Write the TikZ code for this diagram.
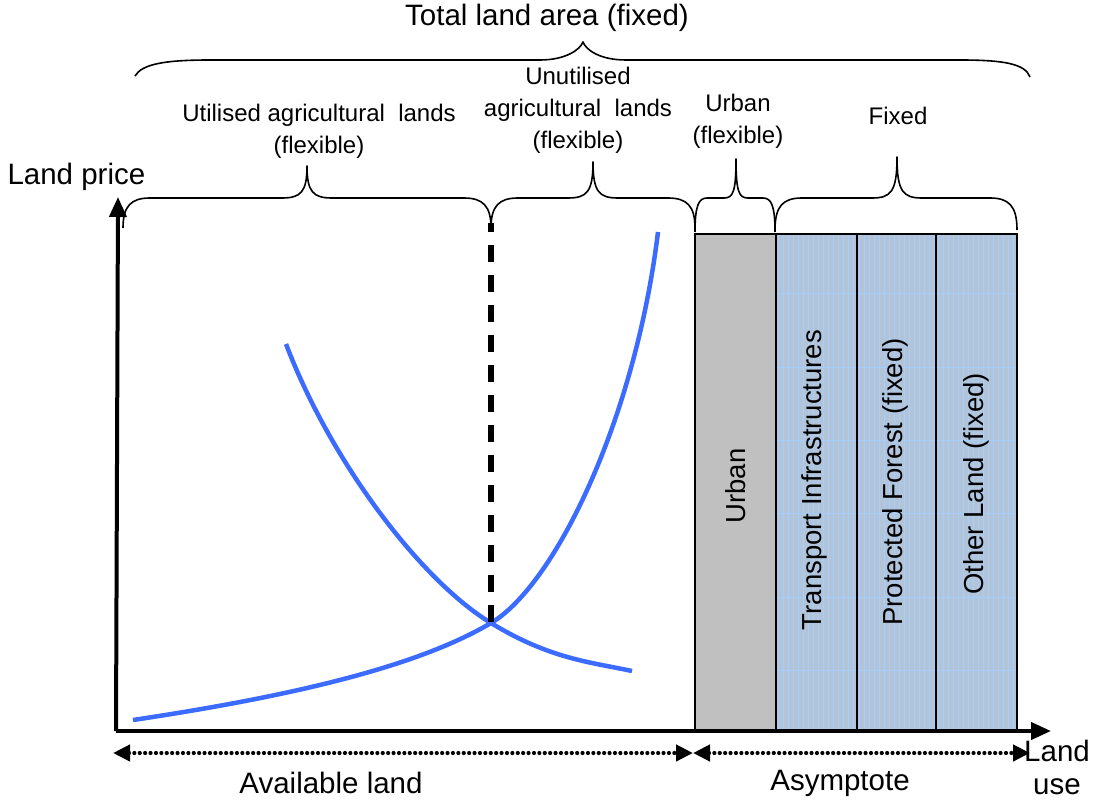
\documentclass[tikz,border=0pt]{standalone}
\usepackage{fontspec}
\setmainfont{Liberation Sans}
\usetikzlibrary{arrows.meta}
\definecolor{curveblue}{RGB}{59,108,255}
\definecolor{urbangrey}{RGB}{192,192,192}
\definecolor{fixedfill}{RGB}{180,196,216}
\definecolor{stripe}{RGB}{166,206,250}
\newcommand\mybrace[8]{%
  \draw[brace] (#1,#4) .. controls (#1,#5+8) and (#1+#7*0.3,#5) .. (#1+#7,#5)
    -- (#2-#8,#5) .. controls (#2-#8*0.25,#5) and (#2,#5-6) .. (#2,#6)
    .. controls (#2,#5-6) and (#2+#8*0.25,#5) .. (#2+#8,#5)
    -- (#3-#7,#5) .. controls (#3-#7*0.3,#5) and (#3,#5+8) .. (#3,#4);}
\begin{document}
\begin{tikzpicture}[x=1pt,y=-1pt,
  axis/.style={line width=4pt,-{Triangle[length=20pt,width=17pt]}},
  brace/.style={line width=1.6pt,line join=round},
  dotline/.style={line width=4.2pt,line cap=round,dash pattern=on 0pt off 5.4pt},
  tipboth/.style={{Triangle[length=17pt,width=16pt]}-{Triangle[length=17pt,width=16pt]}},
  curve/.style={curveblue,line width=4.5pt},
  box/.style={draw=black,line width=1.8pt,anchor=north west,inner sep=0pt,minimum width=81pt,minimum height=498pt},
  fixedbox/.style={box,fill=fixedfill,path picture={
     \foreach \i in {2.5,7.5,...,81}
       \draw[stripe,line width=0.6pt] ([xshift=\i pt]path picture bounding box.north west) -- ([xshift=\i pt]path picture bounding box.south west);
     \foreach \j in {60,134,207,280,364,437}
       \draw[stripe,line width=1pt] ([yshift=-\j pt]path picture bounding box.north west) -- ([yshift=-\j pt]path picture bounding box.north east);}},
  big/.style={font=\fontsize{29.5}{33}\selectfont},
  lab/.style={font=\fontsize{24}{32}\selectfont,align=center},
  boxtext/.style={font=\fontsize{27.5}{30}\selectfont,rotate=90}
]
\useasboundingbox (0,0) rectangle (1097,802);

% boxes
\node[box,fill=urbangrey] (urban) at (694,233) {};
\node[fixedbox] (transport) at (775,233) {};
\node[fixedbox] (forest) at (856,233) {};
\node[fixedbox,minimum width=81pt] (other) at (935,233) {};
\node[boxtext] (urbant) at (736,486) {Urban};
\node[boxtext] (transt) at (814,480) {Transport Infrastructures};
\node[boxtext] (forestt) at (895,482) {Protected Forest (fixed)};
\node[boxtext] (othert) at (976,484) {Other Land (fixed)};

% axes
\coordinate (origin) at (118,731);
\coordinate (ytop) at (118,197);
\coordinate (xend) at (1051,731);
\draw[axis] (116,731) -- (ytop);
\draw[axis] (116,731) -- (xend);

% curves
\coordinate (cross) at (491,623);
\draw[curve] (133,720) .. controls (300,695) and (420,665) .. (cross)
  .. controls (555,585) and (635,420) .. (658,232);
\draw[curve] (286,344) .. controls (330,460) and (420,580) .. (cross)
  .. controls (550,659) and (590,662) .. (632,671);

% dashed line
\coordinate (dtop) at (491,223);
\draw[line width=6pt,dash pattern=on 17pt off 13pt] (491,622) -- (dtop);

% braces
\mybrace{123}{307}{491}{228}{198}{166}{27}{25}
\mybrace{491}{593}{695}{228}{198}{162}{27}{25}
\mybrace{695}{736}{775}{232}{198}{159}{12}{12}
\mybrace{775}{897}{1017}{230}{198}{157}{27}{25}
\draw[brace] (135,76) .. controls (142,64) and (165,60) .. (210,60) -- (540,60)
  .. controls (565,60) and (580,50) .. (583,42)
  .. controls (586,50) and (600,60) .. (626,60) -- (960,60)
  .. controls (1005,60) and (1025,64) .. (1030,77);

% labels
\node[big] (total) at (547,18) {Total land area (fixed)};
\node[lab] (util) at (319,131) {Utilised agricultural\ \ lands\\(flexible)};
\node[lab] (unutil) at (578,110) {Unutilised\\agricultural\ \ lands\\(flexible)};
\node[lab] (urbanl) at (738,121) {Urban\\(flexible)};
\node[lab] (fixedl) at (898,116) {Fixed};
\node[big,anchor=west] (price) at (4,177) {Land price};

% bottom arrows
\coordinate (al) at (113,753);
\coordinate (am) at (693,753);
\coordinate (ar) at (1030,753);
\draw[dotline,tipboth] (al) -- (am);
\draw[dotline,tipboth] (am) -- (ar);
\node[big] (avail) at (331,783) {Available land};
\node[big] (asym) at (840,783) {Asymptote};
\node[big,align=center,anchor=north] (landuse) at (1057,737) {Land\\use};
\end{tikzpicture}
\end{document}
